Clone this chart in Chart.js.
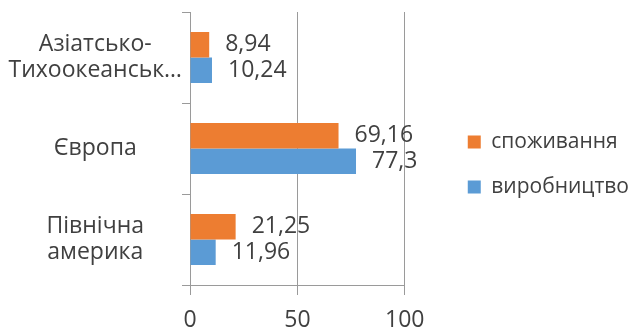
<!DOCTYPE html>
<html>
<head>
<meta charset="utf-8">
<script src="https://cdn.jsdelivr.net/npm/chart.js@4/dist/chart.umd.min.js"></script>
<style>
  html,body{margin:0;padding:0;background:#fff;}
  #wrap{width:639px;height:329px;position:relative;}
</style>
</head>
<body>
<div id="wrap"><canvas id="regionsChart"></canvas></div>
<script>
// дані, зчитані з діаграми
const regions = [['Азіатсько-','Тихоокеанськ…'], 'Європа', ['Північна','америка']];
const consumption = [8.94, 69.16, 21.25];   // споживання
const production  = [10.24, 77.3, 11.96];   // виробництво
const seriesNames = ['споживання', 'виробництво'];
const xMin = 0, xMax = 100, xStep = 50;

const ORANGE = '#ED7D31', BLUE = '#5B9BD5';
const TEXT = '#404040', LINE = '#9a9a9a';
const FONT = "'Open Sans', sans-serif";

// підписи значень біля кінця смуг (кома як десятковий роздільник)
const valueLabels = {
  id: 'valueLabels',
  afterDatasetsDraw(chart){
    const ctx = chart.ctx;
    ctx.save();
    ctx.font = '23px ' + FONT;
    ctx.fillStyle = TEXT;
    ctx.textAlign = 'left';
    ctx.textBaseline = 'middle';
    chart.data.datasets.forEach((ds, i) => {
      chart.getDatasetMeta(i).data.forEach((bar, j) => {
        ctx.fillText(String(ds.data[j]).replace('.', ','), bar.x + 16, bar.y);
      });
    });
    ctx.restore();
  }
};

// порожні осі лише для відступів (зверху та між графіком і легендою)
const spacer = (pos, size) => ({
  type: 'linear', position: pos, display: true,
  ticks: {display: false}, grid: {display: false}, border: {display: false},
  afterFit(s){ if (s.isHorizontal()) s.height = size; else s.width = size; }
});

new Chart(document.getElementById('regionsChart').getContext('2d'), {
  type: 'bar',
  data: {
    labels: regions,
    datasets: [
      {label: seriesNames[0], data: consumption, backgroundColor: ORANGE, xAxisID: 'x', yAxisID: 'y'},
      {label: seriesNames[1], data: production, backgroundColor: BLUE, xAxisID: 'x', yAxisID: 'y'}
    ]
  },
  options: {
    indexAxis: 'y',
    responsive: true,
    maintainAspectRatio: false,
    devicePixelRatio: 1,
    animation: false,
    categoryPercentage: 0.56,
    barPercentage: 1.0,
    layout: {padding: 0},
    scales: {
      y: {
        type: 'category',
        position: 'left',
        grid: {drawOnChartArea: false, drawTicks: true, tickLength: 8, color: LINE, offset: true},
        border: {display: true, color: LINE, width: 1},
        ticks: {color: TEXT, font: {family: FONT, size: 23, lineHeight: 1.1}, crossAlign: 'center', padding: 0},
        afterFit(s){ s.width = 190; s.paddingTop = 0; s.paddingBottom = 0; }
      },
      gapRight: spacer('right', 39),
      gapTop: spacer('top', 12),
      x: {
        type: 'linear',
        position: 'bottom',
        min: xMin, max: xMax,
        ticks: {stepSize: xStep, color: TEXT, font: {family: FONT, size: 23, lineHeight: 1.2}, padding: 12, maxRotation: 0},
        grid: {color: LINE, tickLength: 10, drawTicks: true},
        border: {display: true, color: LINE, width: 1},
        afterFit(s){ s.height = 44; }
      }
    },
    plugins: {
      legend: {
        position: 'right',
        maxWidth: 320,
        labels: {color: TEXT, font: {family: FONT, size: 21}, boxWidth: 13, boxHeight: 13, padding: 24}
      },
      tooltip: {enabled: false}
    }
  },
  plugins: [valueLabels]
});
</script>
</body>
</html>
